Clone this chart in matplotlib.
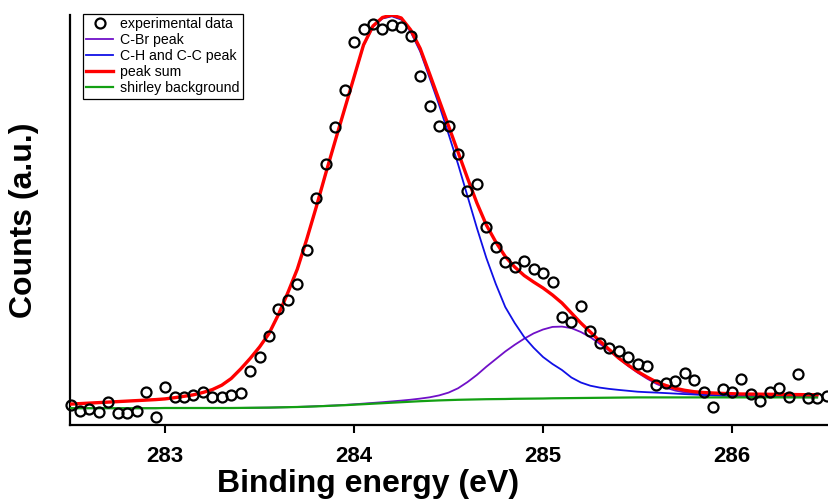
import numpy as np
import matplotlib
matplotlib.use("Agg")
import matplotlib.pyplot as plt

plt.rcParams['font.family'] = ['Liberation Sans', 'DejaVu Sans']

# binding energy grid (0.05 eV steps)
energy = np.round(np.arange(282.50, 286.51, 0.05), 2)
fit_energy = energy[:80]

counts = [20.3, 13.8, 15.7, 13.3, 23.3, 11.7, 11.7, 14.3, 32.7, 7.7,
          38.3, 28.3, 28.3, 29.7, 33.0, 27.7, 27.7, 29.7, 32.3, 53.7,
          68.0, 88.7, 115.7, 124.7, 141.3, 175.0, 227.0, 260.7, 298.3, 335.0,
          382.7, 395.7, 401.0, 396.3, 400.0, 398.3, 389.0, 349.3, 319.0, 299.3,
          299.0, 271.0, 234.0, 240.7, 198.3, 178.3, 162.7, 157.7, 163.7, 156.0,
          151.7, 143.3, 107.7, 103.3, 119.0, 94.3, 81.7, 77.3, 74.3, 68.3,
          60.7, 59.0, 40.0, 41.7, 44.0, 51.7, 45.0, 33.3, 18.3, 35.7,
          32.7, 45.7, 31.0, 24.0, 32.7, 37.3, 28.3, 51.0, 27.3, 27.3,
          29.3]

peak_sum = [20.9, 21.4, 21.9, 22.4, 22.9, 23.4, 23.9, 24.4, 24.9, 25.4,
            26.1, 27.3, 28.7, 30.2, 32.5, 35.4, 39.8, 46.5, 56.0, 66.5,
            78.0, 91.5, 110.5, 132.5, 156.0, 186.0, 218.0, 251.5, 284.0, 316.0,
            348.0, 380.0, 399.0, 407.5, 410.0, 407.0, 395.0, 376.5, 351.0, 325.0,
            299.0, 273.0, 247.0, 222.0, 200.0, 183.0, 168.5, 158.0, 149.5, 143.0,
            137.0, 130.0, 122.0, 112.0, 102.0, 93.0, 84.0, 75.5, 67.0, 60.0,
            53.5, 48.0, 43.0, 39.5, 36.7, 34.7, 33.3, 32.5, 32.0, 31.6,
            31.3, 31.0, 30.9, 30.8, 30.7, 30.6, 30.5, 30.4, 30.3, 30.3]

ch_cc_peak = [20.9, 21.4, 21.9, 22.4, 22.9, 23.4, 23.9, 24.4, 24.9, 25.4,
              26.1, 27.3, 28.7, 30.2, 32.5, 35.4, 39.8, 46.5, 56.0, 66.5,
              78.0, 91.5, 110.5, 132.5, 155.9, 185.8, 217.8, 251.3, 283.8, 315.7,
              347.6, 379.4, 398.2, 406.5, 408.7, 405.4, 393.0, 373.5, 347.0, 320.0,
              291.0, 261.0, 229.0, 197.0, 167.0, 141.0, 118.0, 102.0, 88.0, 77.3,
              68.0, 61.0, 55.0, 47.5, 42.5, 39.3, 37.4, 36.1, 35.1, 34.2,
              33.3, 32.8, 32.4, 31.9, 31.4, 30.9, 30.5, 30.0, 29.8, 29.6,
              29.4, 29.2, 29.0, 28.8, 28.6, 28.4, 28.3, 28.2, 28.1, 28.0]

cbr_peak = [16.8, 16.8, 16.8, 16.8, 16.8, 16.8, 16.8, 16.8, 16.8, 16.8,
            17.0, 17.0, 17.0, 17.0, 17.0, 17.0, 17.0, 17.0, 17.1, 17.2,
            17.3, 17.4, 17.6, 17.8, 18.1, 18.4, 18.8, 19.2, 19.6, 20.1,
            20.7, 21.4, 22.1, 22.8, 23.6, 24.4, 25.3, 26.4, 27.7, 29.6,
            32.4, 36.7, 42.9, 50.1, 58.3, 65.9, 73.5, 80.2, 86.3, 91.6,
            95.5, 98.1, 98.4, 96.9, 93.0, 87.8, 81.2, 74.2, 66.6, 59.1,
            52.4, 46.4, 41.1, 37.2, 34.4, 32.6, 31.4, 30.4, 29.7, 29.2,
            28.8, 28.5, 28.3, 28.1, 28.0, 27.9, 27.8, 27.8, 27.7, 27.7]

shirley = [16.8, 16.8, 16.8, 16.8, 16.8, 16.8, 16.8, 16.8, 16.8, 16.8,
           17.0, 17.0, 17.0, 17.0, 17.0, 17.0, 17.0, 17.0, 17.1, 17.2,
           17.3, 17.4, 17.6, 17.8, 18.0, 18.3, 18.6, 19.0, 19.4, 19.8,
           20.3, 20.8, 21.3, 21.8, 22.3, 22.8, 23.3, 23.8, 24.2, 24.6,
           24.9, 25.2, 25.4, 25.6, 25.8, 25.9, 26.0, 26.2, 26.3, 26.4,
           26.5, 26.7, 26.8, 26.9, 27.0, 27.1, 27.2, 27.3, 27.4, 27.5,
           27.6, 27.6, 27.6, 27.6, 27.6, 27.6, 27.6, 27.6, 27.6, 27.6,
           27.6, 27.6, 27.6, 27.6, 27.6, 27.6, 27.6, 27.6, 27.6, 27.6]

fig = plt.figure(figsize=(8.29, 4.99), dpi=100)
ax = fig.add_axes([70 / 829, 74 / 499, 759 / 829, 410 / 499])

ax.plot(fit_energy, cbr_peak, color='#7010c8', lw=1.3, zorder=3, label='C-Br peak')
ax.plot(fit_energy, ch_cc_peak, color='#1010e6', lw=1.3, zorder=3, label='C-H and C-C peak')
ax.plot(fit_energy, shirley, color='#13a013', lw=1.6, zorder=3.5, label='shirley background')
ax.plot(fit_energy, peak_sum, color='#ff0000', lw=2.4, zorder=4, label='peak sum')
ax.plot(energy, counts, 'o', ms=7.2, mfc='none', mec='black', mew=1.6,
        zorder=5, clip_on=False, label='experimental data')

ax.set_xlim(282.497, 286.513)
ax.set_ylim(0, 410)
ax.set_xticks([283, 284, 285, 286])
ax.set_yticks([])
for s in ['top', 'right']:
    ax.spines[s].set_visible(False)
for s in ['left', 'bottom']:
    ax.spines[s].set_linewidth(1.6)
ax.tick_params(axis='x', direction='out', length=6, width=1.5, pad=9, labelsize=16)
for lab in ax.get_xticklabels():
    lab.set_fontweight('bold')

fig.text(368.5 / 829, 7 / 499, 'Binding energy (eV)', ha='center', va='baseline',
         fontsize=23, fontweight='bold')
fig.text(24 / 829, 1 - 220 / 499, 'Counts (a.u.)', rotation=90, ha='center', va='center',
         fontsize=23, fontweight='bold')

h, l = ax.get_legend_handles_labels()
order = [4, 0, 1, 3, 2]
leg = ax.legend([h[i] for i in order], [l[i] for i in order],
                loc='upper left', bbox_to_anchor=(0.0167, 1.003), borderaxespad=0,
                fontsize=10.2, labelspacing=0.14, handlelength=1.9, handletextpad=0.5,
                borderpad=0.25, fancybox=False, framealpha=1, edgecolor='black')
leg.get_frame().set_linewidth(0.9)

fig.savefig('out.png', dpi=100)
